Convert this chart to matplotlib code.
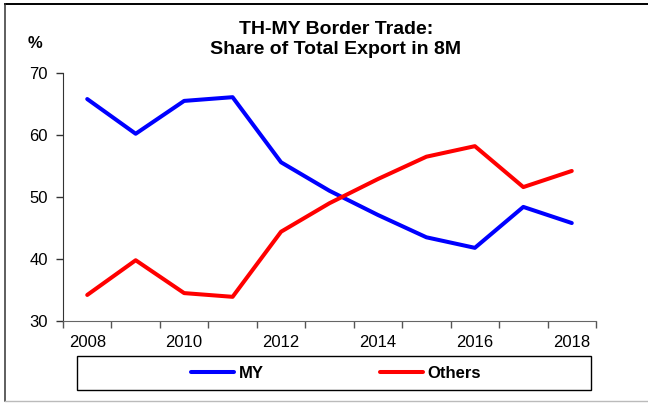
import matplotlib.pyplot as plt
from matplotlib.lines import Line2D
from matplotlib.patches import Rectangle

plt.rcParams['font.family'] = ['Liberation Sans', 'DejaVu Sans']

# data (share of total export in 8M, %)
years = [2008, 2009, 2010, 2011, 2012, 2013, 2014, 2015, 2016, 2017, 2018]
my_share = [65.8, 60.2, 65.5, 66.1, 55.6, 51.0, 47.1, 43.5, 41.8, 48.4, 45.8]
others_share = [34.2, 39.8, 34.5, 33.9, 44.4, 49.0, 52.9, 56.5, 58.2, 51.6, 54.2]
label_years = [2008, 2010, 2012, 2014, 2016, 2018]
y_ticks = [30, 40, 50, 60, 70]

W, H = 648, 403
fig = plt.figure(figsize=(W / 100, H / 100), dpi=100)

# plot area
ax = fig.add_axes([63 / W, 1 - 321 / H, (596 - 63) / W, (321 - 73) / H])
ax.plot(years, my_share, color='#0000ff', lw=2.9, label='MY', solid_capstyle='round')
ax.plot(years, others_share, color='#ff0000', lw=2.9, label='Others', solid_capstyle='round')

ax.set_xlim(years[0] - 0.5, years[-1] + 0.5)
ax.set_ylim(30, 70)
ax.set_yticks(y_ticks)
ax.set_xticks(label_years)
ax.set_xticks([y - 0.5 for y in years] + [years[-1] + 0.5], minor=True)
ax.tick_params(axis='x', which='major', length=0, pad=10, labelsize=12)
ax.tick_params(axis='x', which='minor', length=5, width=1, color='#555555', direction='out')
ax.tick_params(axis='y', length=5, width=1, color='#333333', direction='out', pad=6, labelsize=12)

for s in ['top', 'right']:
    ax.spines[s].set_visible(False)
ax.spines['left'].set_color('#333333')
ax.spines['bottom'].set_color('#666666')

# title and unit
fig.text(336 / W, 1 - 30 / H, 'TH-MY Border Trade:', ha='center', va='center',
         fontsize=14, fontweight='bold')
fig.text(336 / W, 1 - 50 / H, 'Share of Total Export in 8M', ha='center', va='center',
         fontsize=14, fontweight='bold')
fig.text(35 / W, 1 - 43 / H, '%', ha='center', va='center', fontsize=12, fontweight='bold')

# legend box at the bottom
fig.patches.append(Rectangle((77 / W, 1 - 390 / H), (591 - 77) / W, (390 - 356) / H,
                             transform=fig.transFigure, fill=False, ec='black', lw=1))
handles, labels = ax.get_legend_handles_labels()
leg = fig.legend(handles, labels, loc='center', bbox_to_anchor=(336 / W, 1 - 373 / H),
                 ncol=2, frameon=False, handlelength=2.6, handletextpad=0.25,
                 columnspacing=7, prop={'size': 12, 'weight': 'bold'})

# outer chart border
fig.lines.append(Line2D([5 / W, 1], [1 - 3.5 / H, 1 - 3.5 / H], transform=fig.transFigure,
                        color='black', lw=1.4))
fig.lines.append(Line2D([5 / W, 5 / W], [1 - 3.5 / H, 1 - 401 / H], transform=fig.transFigure,
                        color='#333333', lw=1.1))
fig.lines.append(Line2D([5 / W, 1], [1 - 401 / H, 1 - 401 / H], transform=fig.transFigure,
                        color='#bbbbbb', lw=1))

fig.savefig('out.png', dpi=100)
